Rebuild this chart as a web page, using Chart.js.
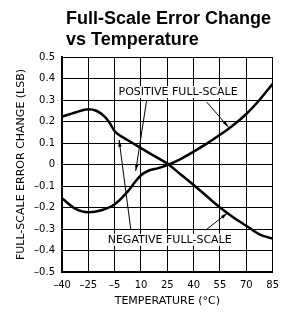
<!DOCTYPE html>
<html>
<head>
<meta charset="utf-8">
<script src="https://cdn.jsdelivr.net/npm/chart.js@4"></script>
<style>
  html, body { margin: 0; padding: 0; background: #fff; }
  #wrap { width: 286px; height: 320px; position: relative; }
</style>
</head>
<body>
<div id="wrap"><canvas id="chart"></canvas></div>
<script>
// x positions are in grid divisions (0 = -40 °C ... 8 = 85 °C), as printed on the original axis
const tempLabels = ['-40', '-25', '-5', '10', '25', '40', '55', '70', '85'];
const yTicks = [-0.5, -0.4, -0.3, -0.2, -0.1, 0, 0.1, 0.2, 0.3, 0.4, 0.5];

const negativeX = [0, 0.5, 1.0, 1.3, 1.6, 1.8, 2.0, 2.2, 2.5, 3.0, 3.5, 4.0, 4.5, 5.0, 5.5, 6.0, 6.5, 7.0, 7.5, 8.0];
const negativeY = [0.222, 0.242, 0.257, 0.25, 0.225, 0.195, 0.155, 0.135, 0.113, 0.076, 0.04, 0.004, -0.045, -0.095, -0.148, -0.2, -0.245, -0.285, -0.325, -0.345];

const positiveX = [0, 0.5, 1.0, 1.5, 2.0, 2.5, 2.75, 3.0, 3.3, 3.66, 4.0, 4.5, 5.0, 5.5, 6.0, 6.5, 7.0, 7.5, 8.0];
const positiveY = [-0.157, -0.205, -0.222, -0.213, -0.185, -0.125, -0.085, -0.05, -0.028, -0.017, -0.003, 0.025, 0.06, 0.097, 0.138, 0.183, 0.235, 0.3, 0.375];

// annotation labels and their arrows (data units)
const labelText = ['POSITIVE FULL-SCALE', 'NEGATIVE FULL-SCALE'];
const labelAt = [[4.41, 0.337], [4.09, -0.35]];
const arrows = [
  [[3.21, 0.295], [2.80, -0.03]],
  [[5.50, 0.29], [6.32, 0.174]],
  [[2.61, -0.30], [2.17, 0.114]],
  [[5.46, -0.305], [6.28, -0.226]]
];

const toPoints = (xs, ys) => xs.map((x, i) => ({ x, y: ys[i] }));
const dash = s => s.replace('-', '\u2013');

const tickFont = { family: 'DejaVu Sans', size: 10 };
const labelFont = { family: 'DejaVu Sans', size: 11 };

const notes = {
  id: 'notes',
  beforeDatasetsDraw(chart) {
    const { ctx, scales: { x, y } } = chart;
    ctx.save();
    ctx.font = '11px "DejaVu Sans"';
    ctx.textAlign = 'center';
    ctx.textBaseline = 'middle';
    labelText.forEach((t, i) => {
      const px = x.getPixelForValue(labelAt[i][0]);
      const py = y.getPixelForValue(labelAt[i][1]);
      const w = ctx.measureText(t).width + 6;
      ctx.fillStyle = '#fff';
      ctx.fillRect(px - w / 2, py - 6, w, 12);
      ctx.fillStyle = '#000';
      ctx.fillText(t, px, py + 0.5);
    });
    ctx.strokeStyle = '#000';
    ctx.fillStyle = '#000';
    ctx.lineWidth = 1;
    arrows.forEach(a => {
      const x0 = x.getPixelForValue(a[0][0]), y0 = y.getPixelForValue(a[0][1]);
      const x1 = x.getPixelForValue(a[1][0]), y1 = y.getPixelForValue(a[1][1]);
      ctx.beginPath();
      ctx.moveTo(x0, y0);
      ctx.lineTo(x1, y1);
      ctx.stroke();
      const ang = Math.atan2(y1 - y0, x1 - x0);
      ctx.beginPath();
      ctx.moveTo(x1, y1);
      ctx.lineTo(x1 - 7 * Math.cos(ang - 0.25), y1 - 7 * Math.sin(ang - 0.25));
      ctx.lineTo(x1 - 7 * Math.cos(ang + 0.25), y1 - 7 * Math.sin(ang + 0.25));
      ctx.closePath();
      ctx.fill();
    });
    ctx.restore();
  },
  afterDraw(chart) {
    const ctx = chart.ctx;
    ctx.save();
    ctx.font = 'bold 18px "Liberation Sans"';
    ctx.fillStyle = '#000';
    ctx.textAlign = 'left';
    ctx.textBaseline = 'alphabetic';
    ctx.fillText('Full-Scale Error Change', 66, 24);
    ctx.fillText('vs Temperature', 66, 45);
    ctx.restore();
  }
};

new Chart(document.getElementById('chart'), {
  type: 'line',
  data: {
    datasets: [
      {
        label: 'Negative Full-Scale',
        data: toPoints(negativeX, negativeY),
        borderColor: '#000',
        borderWidth: 2.5,
        pointRadius: 0,
        cubicInterpolationMode: 'monotone'
      },
      {
        label: 'Positive Full-Scale',
        data: toPoints(positiveX, positiveY),
        borderColor: '#000',
        borderWidth: 2.5,
        pointRadius: 0,
        cubicInterpolationMode: 'monotone'
      }
    ]
  },
  options: {
    responsive: true,
    maintainAspectRatio: false,
    animation: false,
    layout: { padding: { top: 57, right: 10, left: 0, bottom: 0 } },
    plugins: {
      legend: { display: false },
      tooltip: { enabled: false }
    },
    scales: {
      x: {
        type: 'linear',
        min: 0,
        max: 8,
        afterFit: s => { s.height = 48; },
        afterBuildTicks: s => { s.ticks = tempLabels.map((t, i) => ({ value: i })); },
        ticks: {
          color: '#000',
          font: tickFont,
          padding: 7,
          maxRotation: 0,
          callback: v => dash(tempLabels[v])
        },
        grid: { color: '#000', lineWidth: 1, drawTicks: false },
        border: { color: '#000', width: 2 },
        title: {
          display: true,
          text: 'TEMPERATURE (°C)',
          color: '#000',
          font: labelFont,
          padding: { top: 0, bottom: 12 }
        }
      },
      y: {
        min: -0.5,
        max: 0.5,
        afterFit: s => { s.width = 62; },
        afterBuildTicks: s => { s.ticks = yTicks.map(v => ({ value: v })); },
        ticks: {
          color: '#000',
          font: tickFont,
          padding: 7,
          callback: v => v === 0 ? '0' : dash(v.toFixed(1))
        },
        grid: { color: '#000', lineWidth: 1, drawTicks: false },
        border: { color: '#000', width: 2 },
        title: {
          display: true,
          text: 'FULL-SCALE ERROR CHANGE (LSB)',
          color: '#000',
          font: labelFont,
          padding: { top: 15, bottom: 0 }
        }
      }
    }
  },
  plugins: [notes]
});
</script>
</body>
</html>
